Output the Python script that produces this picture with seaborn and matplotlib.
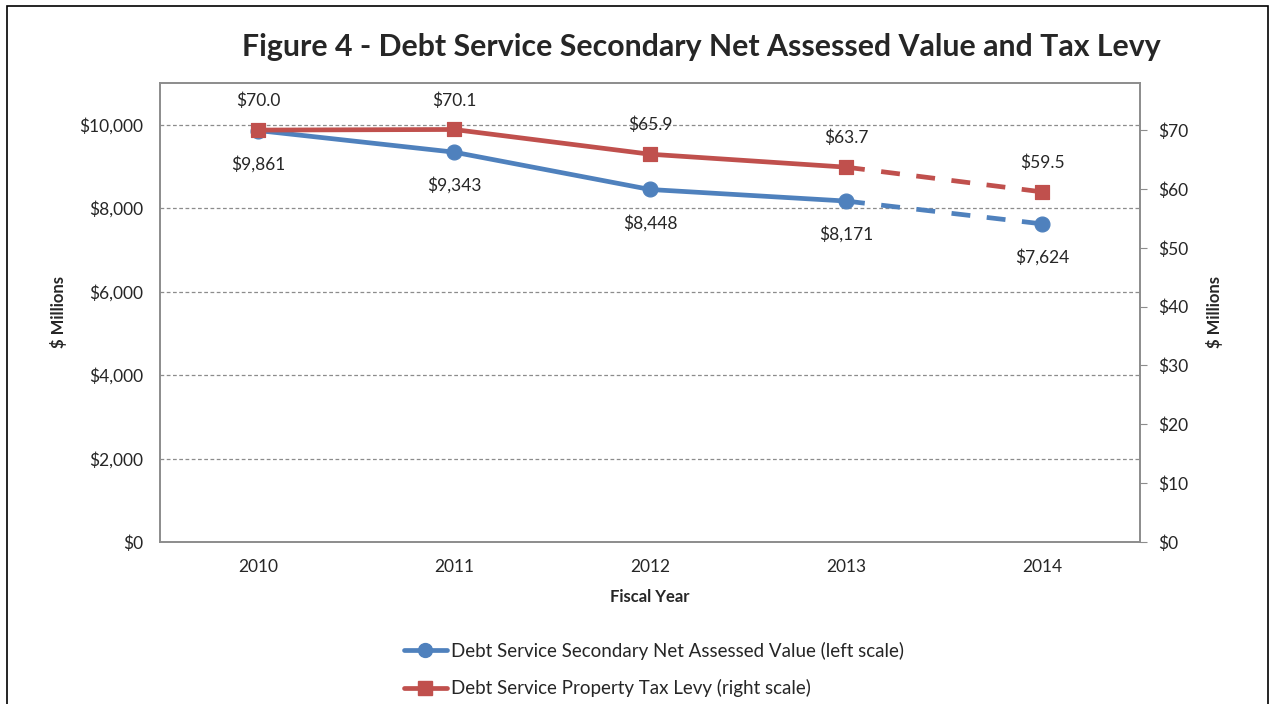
import matplotlib
matplotlib.use("Agg")
import matplotlib.pyplot as plt
import seaborn as sns
import pandas as pd
from matplotlib.patches import Rectangle
from matplotlib.lines import Line2D
from matplotlib.ticker import FuncFormatter

years = ["2010", "2011", "2012", "2013", "2014"]
nav_values = [9861, 9343, 8448, 8171, 7624]
levy_values = [70.0, 70.1, 65.9, 63.7, 59.5]
nav_labels = ["$9,861", "$9,343", "$8,448", "$8,171", "$7,624"]
levy_labels = ["$70.0", "$70.1", "$65.9", "$63.7", "$59.5"]
left_ticks = [0, 2000, 4000, 6000, 8000, 10000]
right_ticks = [0, 10, 20, 30, 40, 50, 60, 70]

BLUE = "#4F81BD"
RED = "#C0504D"

sns.set_style("white")
plt.rcParams['font.family'] = ['Lato', 'DejaVu Sans']

df = pd.DataFrame({"x": range(len(years)), "year": years, "nav": nav_values, "levy": levy_values})
solid = df.iloc[:4]
dashed = df.iloc[3:]

fig = plt.figure(figsize=(12.75, 7.04), dpi=100)
ax = fig.add_axes([160/1275, 1-542/704, 980/1275, 459/704])
ax2 = ax.twinx()

# blue (left)
sns.lineplot(data=solid, x="x", y="nav", ax=ax, color=BLUE, lw=3.4, zorder=3)
sns.lineplot(data=dashed, x="x", y="nav", ax=ax, color=BLUE, lw=3.4, zorder=3)
ax.lines[-1].set_dashes([4, 3.5])
sns.scatterplot(data=df, x="x", y="nav", ax=ax, color=BLUE, marker="o", s=115, edgecolor=BLUE, zorder=4)

# red (right)
sns.lineplot(data=solid, x="x", y="levy", ax=ax2, color=RED, lw=3.4, zorder=3)
sns.lineplot(data=dashed, x="x", y="levy", ax=ax2, color=RED, lw=3.4, zorder=3)
ax2.lines[-1].set_dashes([4, 3.5])
sns.scatterplot(data=df, x="x", y="levy", ax=ax2, color=RED, marker="s", s=115, edgecolor=RED, zorder=4)

ax.set_xlim(-0.5, 4.5)
ax.set_ylim(0, 11000)
ax2.set_ylim(0, 78)
ax.set_xticks(range(len(years)))
ax.set_xticklabels(years)
ax.set_yticks(left_ticks)
ax.yaxis.set_major_formatter(FuncFormatter(lambda v, p: f"${v:,.0f}"))
ax2.set_yticks(right_ticks)
ax2.yaxis.set_major_formatter(FuncFormatter(lambda v, p: f"${v:,.0f}"))

for t in left_ticks[1:]:
    ax.axhline(t, color="#8c8c8c", lw=0.9, ls=(0, (3, 2)), zorder=1)

for a in (ax, ax2):
    for s in a.spines.values():
        s.set_color("#8c8c8c")
        s.set_linewidth(1.2)
ax.tick_params(axis="y", length=0, labelsize=12.5, pad=12)
ax.tick_params(axis="x", length=0, labelsize=12.5, pad=12)
ax2.tick_params(axis="y", length=5, color="#8c8c8c", labelsize=12.5, pad=8, direction="out")

ax.set_xlabel("Fiscal Year", fontsize=12, fontweight="bold", labelpad=10)
ax.set_ylabel("$ Millions", fontsize=12, fontweight="bold", labelpad=9)
ax2.set_ylabel("$ Millions", fontsize=12, fontweight="bold", labelpad=13, rotation=90)

for i in range(len(years)):
    ax.annotate(nav_labels[i], (i, nav_values[i]), xytext=(0, -24), textcoords="offset points",
                ha="center", va="center", fontsize=12.5)
    ax2.annotate(levy_labels[i], (i, levy_values[i]), xytext=(0, 21), textcoords="offset points",
                 ha="center", va="center", fontsize=12.5)

fig.text(701/1275, 1-47/704, "Figure 4 - Debt Service Secondary Net Assessed Value and Tax Levy",
         ha="center", va="center", fontsize=21.8, fontweight="bold")

handles = [Line2D([], [], color=BLUE, lw=3.4, marker="o", markersize=10),
           Line2D([], [], color=RED, lw=3.4, marker="s", markersize=10)]
labels = ["Debt Service Secondary Net Assessed Value (left scale)",
          "Debt Service Property Tax Levy (right scale)"]
fig.legend(handles, labels, loc="upper left", bbox_to_anchor=(396/1275, 1-634/704), frameon=False,
           fontsize=13.5, handlelength=2.3, handletextpad=0.25, labelspacing=1.05, borderaxespad=0)

fig.patches.append(Rectangle((7/1275, -0.05), 1261/1275, 1.05 - 6/704, transform=fig.transFigure,
                             fill=False, edgecolor="black", lw=1.2))

fig.savefig("out.png", dpi=100)
